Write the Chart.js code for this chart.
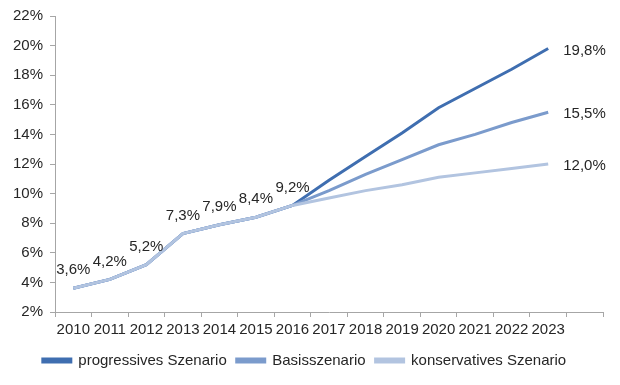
<!DOCTYPE html>
<html>
<head>
<meta charset="utf-8">
<script src="https://cdn.jsdelivr.net/npm/chart.js@4"></script>
<style>
  html, body { margin: 0; padding: 0; background: #fff; }
  #wrap { width: 620px; height: 385px; }
</style>
</head>
<body>
<div id="wrap"><canvas id="chart" width="620" height="385"></canvas></div>
<script>
// years on the x axis (last slot is empty like in the original)
const years = ['2010', '2011', '2012', '2013', '2014', '2015', '2016', '2017', '2018', '2019', '2020', '2021', '2022', '2023', ''];

// share values in percent
const progressive  = [3.6, 4.2, 5.2, 7.3, 7.9, 8.4, 9.2, 10.9, 12.5, 14.1, 15.8, 17.1, 18.4, 19.8];
const basis        = [3.6, 4.2, 5.2, 7.3, 7.9, 8.4, 9.2, 10.2, 11.3, 12.3, 13.3, 14.0, 14.8, 15.5];
const conservative = [3.6, 4.2, 5.2, 7.3, 7.9, 8.4, 9.2, 9.7, 10.2, 10.6, 11.1, 11.4, 11.7, 12.0];

const seriesNames = ['progressives Szenario', 'Basisszenario', 'konservatives Szenario'];
const seriesColors = ['#3F6EB0', '#7B9BCC', '#B2C4E0'];

// which points get a value label
const historyLabelIdx = [0, 1, 2, 3, 4, 5, 6];
const endIdx = 13;

const FONT = '"Liberation Sans", Arial, sans-serif';
const textColor = '#262626';
const axisColor = '#A6A6A6';

function fmt(v) {
    return v.toFixed(1).replace('.', ',') + '%';
}

// draws the value labels (no datalabels plugin available)
const valueLabels = {
    id: 'valueLabels',
    afterDatasetsDraw(chart) {
        const ctx = chart.ctx;
        const x = chart.scales.x;
        const y = chart.scales.y;
        ctx.save();
        ctx.font = '15px ' + FONT;
        ctx.fillStyle = textColor;
        ctx.textBaseline = 'middle';

        // history labels above the shared line
        ctx.textAlign = 'center';
        historyLabelIdx.forEach(i => {
            const v = conservative[i];
            ctx.fillText(fmt(v), x.getPixelForValue(i), y.getPixelForValue(v) - 18);
        });

        // end values to the right
        ctx.textAlign = 'left';
        [progressive, basis, conservative].forEach(arr => {
            const v = arr[endIdx];
            ctx.fillText(fmt(v), x.getPixelForValue(endIdx) + 15, y.getPixelForValue(v) + 2);
        });
        ctx.restore();
    }
};

const ctx = document.getElementById('chart').getContext('2d');

new Chart(ctx, {
    type: 'line',
    data: {
        labels: years,
        datasets: [
            { label: seriesNames[0], data: progressive, borderColor: seriesColors[0], backgroundColor: seriesColors[0], order: 3 },
            { label: seriesNames[1], data: basis, borderColor: seriesColors[1], backgroundColor: seriesColors[1], order: 2 },
            { label: seriesNames[2], data: conservative, borderColor: seriesColors[2], backgroundColor: seriesColors[2], order: 1 }
        ]
    },
    options: {
        responsive: false,
        animation: false,
        elements: {
            line: { borderWidth: 3, tension: 0 },
            point: { radius: 0, hoverRadius: 0 }
        },
        layout: {
            padding: { top: 14, right: 17, left: 6, bottom: 7 }
        },
        plugins: {
            tooltip: { enabled: false },
            legend: {
                display: true,
                position: 'bottom',
                labels: {
                    boxWidth: 28,
                    boxHeight: 3,
                    padding: 10,
                    color: textColor,
                    font: { family: FONT, size: 15 },
                    sort: (a, b) => a.datasetIndex - b.datasetIndex
                }
            }
        },
        scales: {
            x: {
                offset: true,
                grid: {
                    offset: true,
                    drawOnChartArea: false,
                    drawTicks: true,
                    tickLength: 5,
                    color: axisColor
                },
                border: { display: true, color: axisColor, width: 1 },
                ticks: {
                    autoSkip: false,
                    maxRotation: 0,
                    padding: 4,
                    color: textColor,
                    font: { family: FONT, size: 15 }
                }
            },
            y: {
                min: 2,
                max: 22,
                grid: {
                    drawOnChartArea: false,
                    drawTicks: true,
                    tickLength: 5,
                    color: axisColor
                },
                border: { display: true, color: axisColor, width: 1 },
                ticks: {
                    stepSize: 2,
                    padding: 7,
                    color: textColor,
                    font: { family: FONT, size: 15 },
                    callback: v => v + '%'
                }
            }
        }
    },
    plugins: [valueLabels]
});
</script>
</body>
</html>
